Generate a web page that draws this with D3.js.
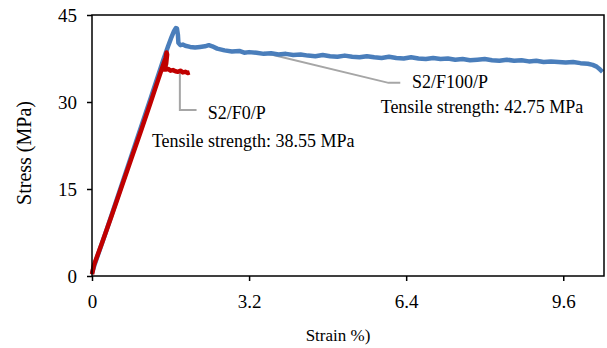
<!DOCTYPE html>
<html>
<head>
<meta charset="utf-8">
<script src="https://cdn.jsdelivr.net/npm/d3@7"></script>
<style>
  body { margin: 0; background: #fff; }
</style>
</head>
<body>
<svg id="chart" width="607" height="348"></svg>
<script>
// strain (%) / stress (MPa)
var s2f100Strain = [0, 0.05, 0.3, 0.6, 0.9, 1.2, 1.45, 1.55, 1.62, 1.67, 1.71, 1.73, 1.75, 1.76, 1.8, 1.85, 1.9, 2.0, 2.1, 2.2, 2.3, 2.38, 2.45, 2.55, 2.7, 2.85, 3.0, 3.1, 3.2, 3.35, 3.5, 3.65, 3.8, 3.95, 4.1, 4.25, 4.4, 4.55, 4.7, 4.85, 5.0, 5.15, 5.3, 5.45, 5.6, 5.75, 5.9, 6.05, 6.2, 6.35, 6.5, 6.65, 6.8, 6.95, 7.1, 7.25, 7.4, 7.55, 7.7, 7.85, 8.0, 8.15, 8.3, 8.45, 8.6, 8.75, 8.9, 9.05, 9.2, 9.35, 9.5, 9.65, 9.8, 9.95, 10.1, 10.2, 10.28, 10.35, 10.4];
var s2f100Stress = [0.5, 1.9, 8.0, 15.6, 23.2, 30.8, 37.2, 39.6, 41.2, 42.2, 42.75, 42.7, 41.6, 40.2, 39.8, 39.9, 39.7, 39.5, 39.4, 39.5, 39.6, 39.8, 39.6, 39.2, 38.9, 38.7, 38.8, 38.5, 38.6, 38.5, 38.3, 38.4, 38.2, 38.3, 38.1, 38.2, 38.0, 37.9, 38.1, 37.9, 37.8, 38.0, 37.8, 37.7, 37.9, 37.7, 37.6, 37.8, 37.6, 37.5, 37.7, 37.5, 37.4, 37.6, 37.4, 37.5, 37.3, 37.4, 37.2, 37.3, 37.4, 37.2, 37.1, 37.3, 37.1, 37.2, 37.0, 37.1, 36.9, 37.0, 36.9, 36.8, 36.9, 36.7, 36.6, 36.4, 36.1, 35.6, 35.2];

var s2f0Strain = [0, 0.04, 0.2, 0.4, 0.6, 0.8, 1.0, 1.2, 1.35, 1.45, 1.5, 1.52, 1.53, 1.51, 1.48, 1.46, 1.5, 1.55, 1.6, 1.65, 1.7, 1.75, 1.8, 1.85, 1.9, 1.95, 1.99];
var s2f0Stress = [0.3, 1.9, 5.6, 10.4, 15.3, 20.2, 25.1, 30.1, 33.9, 36.4, 37.6, 38.55, 38.2, 36.6, 35.8, 35.6, 35.6, 35.7, 35.4, 35.5, 35.3, 35.2, 35.4, 35.1, 35.2, 35.0, 35.1];

var xTicks = [0, 3.2, 6.4, 9.6];
var yTicks = [0, 15, 30, 45];

var serif = "'Liberation Serif', 'Times New Roman', serif";
var svg = d3.select("#chart");

var x = d3.scaleLinear().domain([0, 10.43]).range([92, 604]);
var y = d3.scaleLinear().domain([0, 45]).range([276, 15]);

var blue = s2f100Strain.map(function(d, i) { return [d, s2f100Stress[i]]; });
var red = s2f0Strain.map(function(d, i) { return [d, s2f0Stress[i]]; });

var line = d3.line()
  .x(function(d) { return x(d[0]); })
  .y(function(d) { return y(d[1]); });

// leader lines (grey), drawn under the curves
svg.append("path")
  .attr("d", line([[3.5, 38.5], [6.04, 33.3], [6.28, 33.3]]))
  .attr("fill", "none").attr("stroke", "#a6a6a6").attr("stroke-width", 2);
svg.append("path")
  .attr("d", line([[1.79, 35.1], [1.79, 28.6], [2.13, 28.6]]))
  .attr("fill", "none").attr("stroke", "#a6a6a6").attr("stroke-width", 2);

svg.append("path")
  .attr("d", line(blue))
  .attr("fill", "none")
  .attr("stroke", "#4a7ebb")
  .attr("stroke-width", 4.5)
  .attr("stroke-linejoin", "round");

svg.append("path")
  .attr("d", line(red))
  .attr("fill", "none")
  .attr("stroke", "#c00000")
  .attr("stroke-width", 4.5)
  .attr("stroke-linejoin", "round");

// frame
svg.append("rect")
  .attr("x", x(0)).attr("y", y(45))
  .attr("width", x.range()[1] - x(0)).attr("height", y(0) - y(45))
  .attr("fill", "none").attr("stroke", "#000").attr("stroke-width", 1.5);

// axes
var xAxis = svg.append("g")
  .attr("transform", "translate(0," + y(0) + ")")
  .call(d3.axisBottom(x).tickValues(xTicks).tickSize(5).tickPadding(14).tickFormat(function(d) { return d; }));
var yAxis = svg.append("g")
  .attr("transform", "translate(" + x(0) + ",0)")
  .call(d3.axisLeft(y).tickValues(yTicks).tickSize(5).tickPadding(10));

[xAxis, yAxis].forEach(function(g) {
  g.attr("font-family", null);
  g.select(".domain").remove();
  g.selectAll("line").attr("stroke", "#000").attr("stroke-width", 1.5);
  g.selectAll("text").style("font-family", serif).style("font-size", "19px").attr("fill", "#000");
});

// axis titles
svg.append("text")
  .attr("x", 338).attr("y", 341)
  .attr("text-anchor", "middle")
  .style("font-family", serif)
  .style("font-size", "17px")
  .text("Strain %)");

svg.append("text")
  .attr("transform", "translate(31,153)rotate(-90)")
  .attr("text-anchor", "middle")
  .style("font-family", serif)
  .style("font-size", "20px")
  .text("Stress (MPa)");

// annotations
var notes = [
  { t: "S2/F0/P", sx: 2.36, py: 119 },
  { t: "Tensile strength: 38.55 MPa", sx: 1.22, py: 147 },
  { t: "S2/F100/P", sx: 6.52, py: 88 },
  { t: "Tensile strength: 42.75 MPa", sx: 5.88, py: 113 }
];
svg.selectAll(".note").data(notes).enter().append("text")
  .attr("class", "note")
  .attr("x", function(d) { return x(d.sx); })
  .attr("y", function(d) { return d.py; })
  .style("font-family", serif)
  .style("font-size", "18px")
  .text(function(d) { return d.t; });
</script>
</body>
</html>
